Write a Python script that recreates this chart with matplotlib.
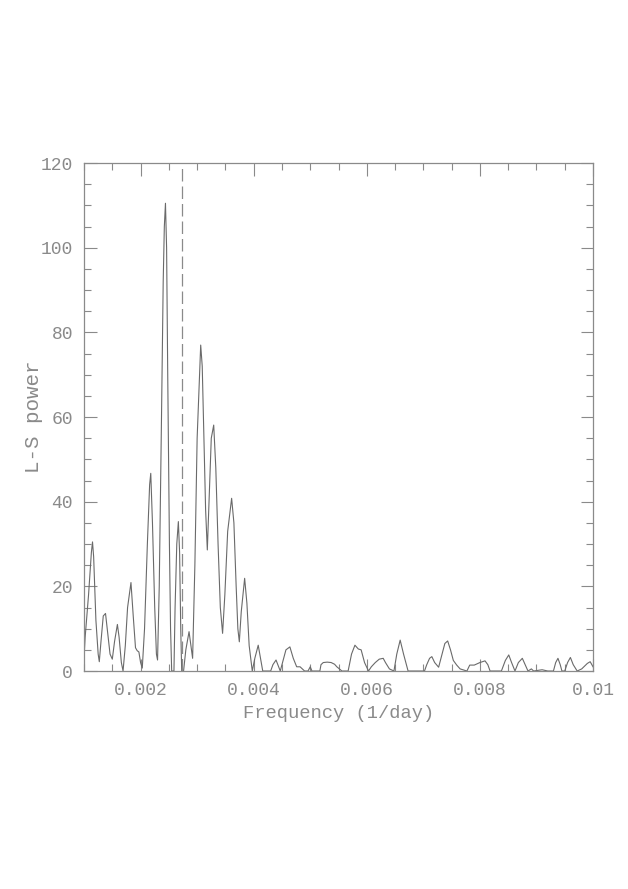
import matplotlib
matplotlib.use("Agg")
import matplotlib.pyplot as plt
from matplotlib.ticker import MultipleLocator

# Lomb-Scargle periodogram, points
freq = [0.00100, 0.00102, 0.00108, 0.00113, 0.00115, 0.00117, 0.00121, 0.00125, 0.00127,
        0.00130, 0.00134, 0.00138, 0.00141, 0.00146, 0.00150, 0.00154, 0.00159, 0.00162,
        0.00166, 0.00169, 0.00173, 0.00177, 0.00183, 0.00187, 0.00191, 0.00194, 0.00197,
        0.00200, 0.00203, 0.00207, 0.00212, 0.00216, 0.00218, 0.00221, 0.00225, 0.00228,
        0.00230, 0.00233, 0.00237, 0.00240, 0.00242, 0.00244, 0.00246, 0.00248, 0.00251,
        0.00253, 0.00255, 0.00259, 0.00261, 0.00264, 0.002668, 0.00269, 0.00271, 0.002727,
        0.00276, 0.00280, 0.002857, 0.00289, 0.00292, 0.00296, 0.00300, 0.003063, 0.00309,
        0.00312, 0.00315, 0.00318, 0.00321, 0.00325, 0.003293, 0.00333, 0.00337, 0.00341,
        0.00345, 0.00349, 0.00354, 0.00361, 0.00365, 0.00369, 0.00372, 0.003746, 0.00378,
        0.00384, 0.00388, 0.00392, 0.003975, 0.00402, 0.00408, 0.00412, 0.00416, 0.00430,
        0.00434, 0.004395, 0.00444, 0.00447, 0.00451, 0.00457, 0.00464, 0.00470, 0.00476,
        0.00482, 0.00486, 0.00490, 0.00496, 0.00500, 0.00503, 0.00517, 0.00519, 0.00523,
        0.00530, 0.00537, 0.00543, 0.00547, 0.00556, 0.00567, 0.00573, 0.00579, 0.00585,
        0.00590, 0.00596, 0.00603, 0.00608, 0.00615, 0.00622, 0.00629, 0.00633, 0.00640,
        0.00648, 0.00653, 0.00659, 0.00665, 0.00673, 0.00702, 0.00706, 0.00711, 0.00715,
        0.00720, 0.00727, 0.00733, 0.00738, 0.00743, 0.00748, 0.00753, 0.00759, 0.00765,
        0.00777, 0.00782, 0.00790, 0.00800, 0.00809, 0.00814, 0.00818, 0.00838, 0.00845,
        0.00851, 0.00856, 0.00862, 0.00868, 0.00875, 0.00880, 0.00885, 0.00891, 0.00895,
        0.00910, 0.00920, 0.00930, 0.00934, 0.00938, 0.00942, 0.00945, 0.00950, 0.00955,
        0.00960, 0.00965, 0.00972, 0.00980, 0.00990, 0.00995, 0.01000]
power = [3, 8, 18, 28, 30.5, 27, 12, 4, 2.2,
         7, 13, 13.6, 10, 4, 2.8, 7, 11, 8,
         2, 0, 6, 15, 20.9, 13, 5.5, 4.8, 4.5,
         2, 0.7, 10, 30, 44, 46.7, 35, 15, 4,
         2.6, 20, 60, 92, 105, 110.5, 100, 70, 30,
         10, 0, 0, 15, 30, 35.3, 28, 10, 0,
         0, 5, 9.3, 6, 3, 25, 55, 77, 72,
         55, 38, 28.6, 40, 55, 58.1, 48, 30, 15,
         8.9, 18, 33, 40.8, 35, 20, 10, 6.9, 14,
         21.9, 16, 6, 0, 3, 6.1, 3, 0, 0,
         1.5, 2.6, 1, 0, 2, 5, 5.7, 3, 1,
         1, 0.5, 0, 0, 1, 0, 0, 1.5, 2,
         2.1, 2, 1.6, 1, 0, 0, 4, 6.1, 5.2,
         5, 2, 0, 1, 2, 2.8, 3, 2, 0.5,
         0, 4, 7.3, 4, 0, 0, 1.5, 3, 3.4,
         2, 0.9, 4, 6.5, 7.1, 5, 2.5, 1.4, 0.5,
         0, 1.4, 1.4, 2, 2.4, 1.5, 0, 0, 2.5,
         3.8, 2, 0, 2, 3, 1.5, 0, 0.5, 0,
         0.3, 0, 0, 2, 3, 1.5, 0, 0, 2,
         3.2, 1.5, 0, 0.5, 1.8, 2.2, 1]

one_year = 1 / 365.25

grey = '#8a8a8a'
plt.rcParams['font.family'] = ['Liberation Mono', 'DejaVu Sans Mono']

fig = plt.figure(figsize=(6.28, 8.89), dpi=100)
ax = fig.add_axes([0.1338, 0.2452, 0.8105, 0.5714])

ax.plot(freq, power, color='#6a6a6a', lw=0.8)
ax.axvline(one_year, color=grey, lw=0.9, dashes=(10, 4))

ax.set_xlim(0.001, 0.01)
ax.set_ylim(0, 120)
ax.xaxis.set_minor_locator(MultipleLocator(0.0005))
ax.yaxis.set_major_locator(MultipleLocator(20))
ax.yaxis.set_minor_locator(MultipleLocator(5))
ax.set_xticks([0.002, 0.004, 0.006, 0.008, 0.01])
ax.set_xticklabels(['0.002', '0.004', '0.006', '0.008', '0.01'])

ax.tick_params(which='both', direction='in', top=True, right=True, colors=grey,
               labelsize=13, labelcolor=grey)
ax.tick_params(which='major', length=9, width=0.8, pad=8)
ax.tick_params(which='minor', length=5, width=0.8)
for s in ax.spines.values():
    s.set_color(grey)
    s.set_linewidth(0.9)

ax.set_xlabel('Frequency (1/day)', fontsize=13.5, color=grey, labelpad=4)
ax.set_ylabel('L-S power', fontsize=15, color=grey, labelpad=-2)

fig.savefig('out.png', dpi=100, facecolor='white')
